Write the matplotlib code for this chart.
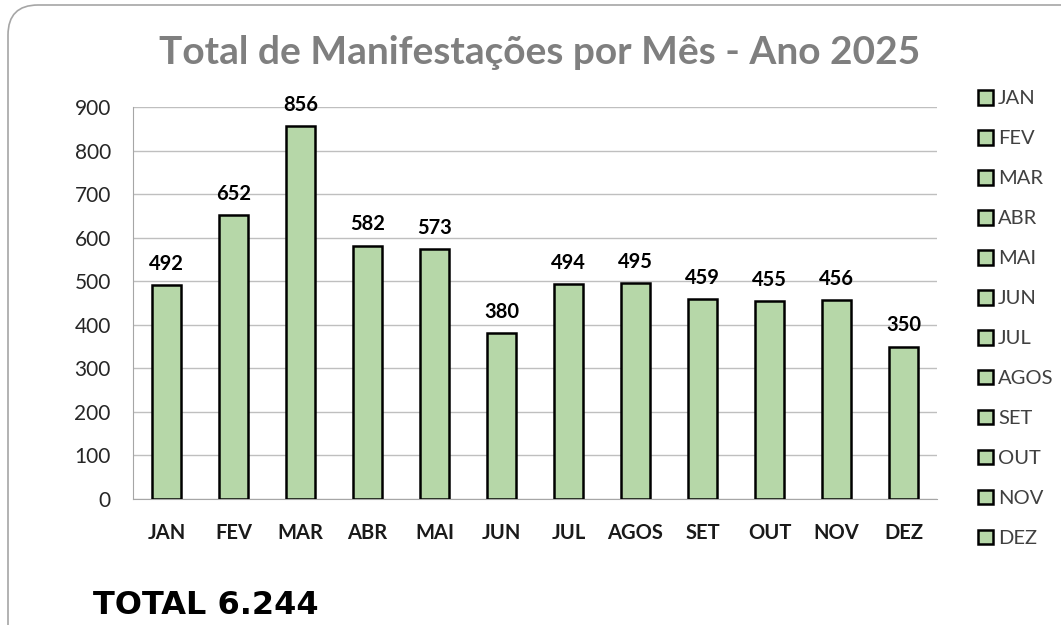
import matplotlib
matplotlib.use("Agg")
import matplotlib.pyplot as plt
from matplotlib.patches import Patch, FancyBboxPatch

months = ["JAN", "FEV", "MAR", "ABR", "MAI", "JUN", "JUL", "AGOS", "SET", "OUT", "NOV", "DEZ"]
values = [492, 652, 856, 582, 573, 380, 494, 495, 459, 455, 456, 350]
yticks = [0, 100, 200, 300, 400, 500, 600, 700, 800, 900]
title = "Total de Manifestações por Mês - Ano 2025"
total_label = "TOTAL 6.244"

plt.rcParams['font.family'] = ['Lato', 'DejaVu Sans']

W, H = 1061, 625
fig = plt.figure(figsize=(W / 100, H / 100), dpi=100)

# rounded frame (in inches so the corners are circular)
frame = FancyBboxPatch((8 / 100, -0.5), (W + 60) / 100, (H - 5) / 100 + 0.5,
                       boxstyle="round,pad=0,rounding_size=0.3",
                       transform=fig.dpi_scale_trans, facecolor="none",
                       edgecolor="#a6a6a6", linewidth=1.2, zorder=-5)
fig.patches.append(frame)

ax = fig.add_axes([133 / W, 126 / H, (937 - 133) / W, (499 - 107) / H])
ax.set_facecolor("none")

green = "#b6d7a8"
bars = ax.bar(months, values, width=0.42, color=green, edgecolor="black",
              linewidth=1.8, zorder=3)
ax.bar_label(bars, labels=[str(v) for v in values], padding=8,
             fontsize=14.5, fontweight="bold", color="black")

ax.set_xlim(-0.5, len(months) - 0.5)
ax.set_ylim(0, 900)
ax.set_yticks(yticks)
ax.set_yticklabels([str(t) for t in yticks], fontsize=15, color="#262626")
ax.tick_params(axis="y", length=0, pad=16)
ax.tick_params(axis="x", length=0, pad=17, labelsize=14.5)
for lbl in ax.get_xticklabels():
    lbl.set_fontweight("bold")
    lbl.set_color("#1a1a1a")

ax.yaxis.grid(True, color="#bfbfbf", linewidth=1, zorder=0)
ax.set_axisbelow(True)
for side in ["top", "right"]:
    ax.spines[side].set_visible(False)
ax.spines["left"].set_color("#a6a6a6")
ax.spines["bottom"].set_color("#a6a6a6")

fig.text(540 / W, 1 - 53 / H, title, ha="center", va="center",
         fontsize=28, fontweight="bold", color="#7f7f7f")

handles = [Patch(facecolor=green, edgecolor="black", linewidth=1.8, label=m) for m in months]
leg = fig.legend(handles=handles, loc="upper left",
                 bbox_to_anchor=(970 / W, 1 - 82 / H), frameon=False,
                 fontsize=14.5, handlelength=0.75, handleheight=0.75,
                 handletextpad=0.25, labelspacing=1.12, borderaxespad=0)
for t in leg.get_texts():
    t.set_color("#404040")

fig.text(93 / W, 1 - 606 / H, total_label, ha="left", va="center",
         fontsize=23, fontweight="bold", family="DejaVu Sans", color="black")

fig.savefig("out.png", dpi=100)
